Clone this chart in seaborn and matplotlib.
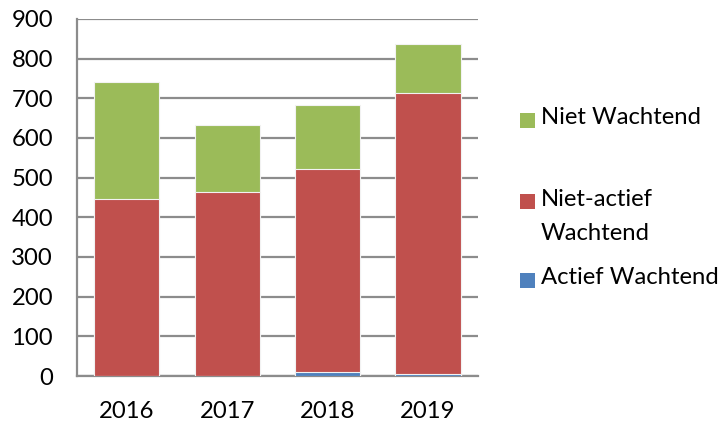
import matplotlib
matplotlib.use("Agg")
import matplotlib.pyplot as plt
import seaborn as sns
import pandas as pd
import numpy as np
from matplotlib.patches import Rectangle

years = ["2016", "2017", "2018", "2019"]
actief_wachtend = [0, 0, 9, 6]
niet_actief_wachtend = [445, 464, 514, 708]
niet_wachtend = [295, 168, 161, 124]
series_labels = ["Niet Wachtend", "Niet-actief\nWachtend", "Actief Wachtend"]
yticks = [0, 100, 200, 300, 400, 500, 600, 700, 800, 900]

green = "#9BBB59"
red = "#C0504D"
blue = "#4F81BD"
grid_c = "#8C8C8C"

sns.set_theme(style="white")
plt.rcParams["font.family"] = ["Lato", "DejaVu Sans"]

a = np.array(actief_wachtend)
n = np.array(niet_actief_wachtend)
w = np.array(niet_wachtend)
df = pd.DataFrame({
    "year": years,
    "blue_top": a,
    "red_top": a + n,
    "green_top": a + n + w,
})

fig = plt.figure(figsize=(7.26, 4.22), dpi=100)
ax = fig.add_axes([0.1056, 0.109, 0.553, 0.846])

for col, c in [("green_top", green), ("red_top", red), ("blue_top", blue)]:
    sns.barplot(data=df, x="year", y=col, color=c, width=0.65, ax=ax,
                saturation=1, edgecolor="#F2F2F2", linewidth=0.8, zorder=3)

ax.set_ylim(0, 900)
ax.set_yticks(yticks)
ax.set_xlim(-0.5, 3.5)
ax.yaxis.grid(True, color=grid_c, linewidth=1.6, zorder=0)
ax.set_axisbelow(True)
for s in ["top", "right"]:
    ax.spines[s].set_visible(False)
for s in ["left", "bottom"]:
    ax.spines[s].set_color(grid_c)
    ax.spines[s].set_linewidth(1.6)
ax.tick_params(axis="y", length=0, pad=17, labelsize=17.2, colors="black")
ax.tick_params(axis="x", length=0, pad=18, labelsize=17.2, colors="black")
ax.set_xlabel("")
ax.set_ylabel("")

# legend drawn manually (Excel style)
W, H = 726.0, 422.0
entries = [(series_labels[0], green, 120), (series_labels[1], red, 201.5), (series_labels[2], blue, 280)]
for label, c, yc in entries:
    fig.patches.append(Rectangle((520 / W, 1 - (yc + 7.5) / H), 15 / W, 15 / H,
                                 transform=fig.transFigure, facecolor=c, edgecolor="none"))
    fig.text(541 / W, 1 - (yc - 13) / H, label, fontsize=17.2, va="top", ha="left",
             linespacing=1.8, color="black")

fig.savefig("out.png", dpi=100)
